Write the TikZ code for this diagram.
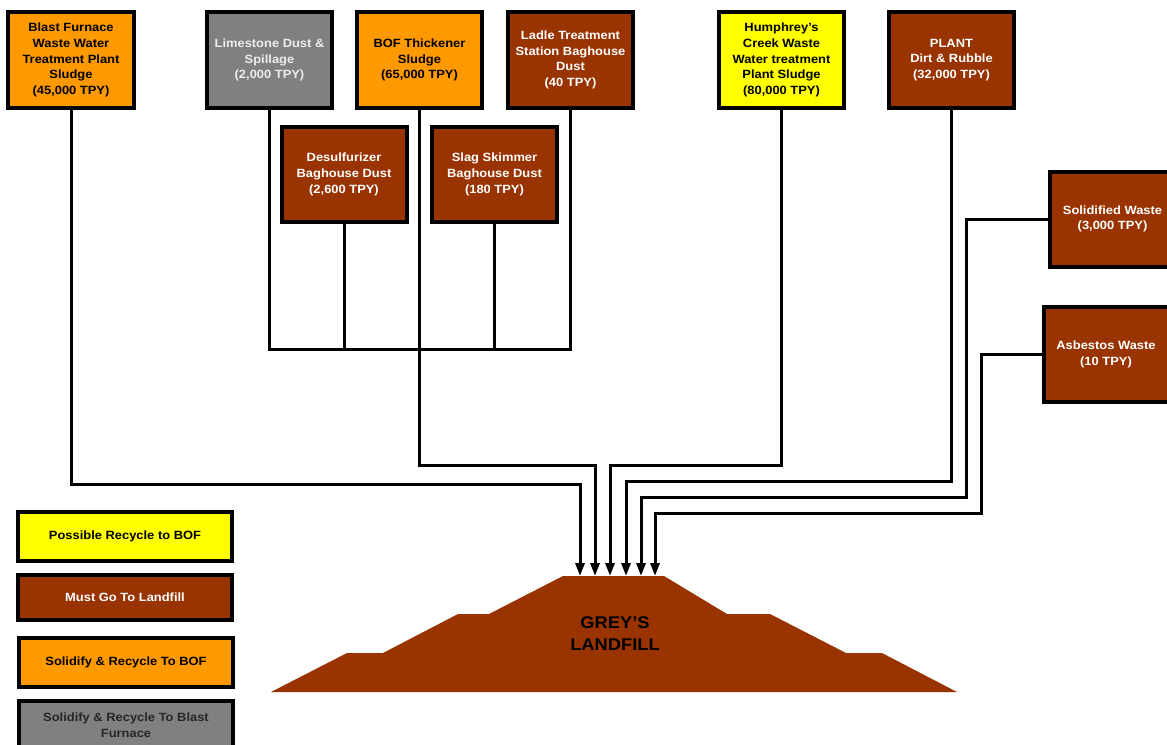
\documentclass[tikz,border=0pt]{standalone}
\usepackage{fontspec}
\setmainfont{Liberation Sans}[FakeStretch=1.08]
\usetikzlibrary{arrows.meta}
\definecolor{orng}{HTML}{FF9900}
\definecolor{gry}{HTML}{808080}
\definecolor{brwn}{HTML}{993300}
\definecolor{yllw}{HTML}{FFFF00}
\tikzset{
  box/.style={draw=black, line width=4bp, rectangle, minimum width=125bp, minimum height=95bp,
    align=center, inner sep=2bp, font=\fontsize{12}{15.7}\selectfont\bfseries},
  orangebox/.style={box, fill=orng, text=black},
  graybox/.style={box, fill=gry, text=white!93!black},
  brownbox/.style={box, fill=brwn, text=white},
  yellowbox/.style={box, fill=yllw, text=black},
  legend/.style={draw=black, line width=4bp, rectangle, minimum width=214bp, minimum height=46bp,
    align=center, inner sep=2bp, font=\fontsize{12}{15.7}\selectfont\bfseries},
  conn/.style={line width=3bp, draw=black},
  arr/.style={conn, -{Triangle[length=13bp,width=9bp]}},
}
\begin{document}
\begin{tikzpicture}[x=1bp,y=-1bp]
\useasboundingbox (0,0) rectangle (1167,745);
% landfill
\fill[brwn] (271,692) -- (347,653) -- (383,653) -- (458,614) -- (489,614) -- (563,576) -- (664,576)
  -- (727,614) -- (770,614) -- (846,653) -- (882,653) -- (957,692) -- cycle;
\node[font=\fontsize{17}{22}\selectfont\bfseries, align=center, text=black] (land) at (615,634) {GREY’S\\LANDFILL};
% boxes
\node[orangebox] (blast) at (71,60) {Blast Furnace\\Waste Water\\Treatment Plant\\Sludge\\(45,000 TPY)};
\node[graybox] (lime) at (269.5,60) {Limestone Dust \&\\Spillage\\(2,000 TPY)};
\node[orangebox] (bof) at (419.5,60) {BOF Thickener\\Sludge\\(65,000 TPY)};
\node[brownbox] (ladle) at (570.5,60) {Ladle Treatment\\Station Baghouse\\Dust\\(40 TPY)};
\node[brownbox] (desulf) at (344,174.5) {Desulfurizer\\Baghouse Dust\\(2,600 TPY)};
\node[brownbox] (slag) at (494.5,174.5) {Slag Skimmer\\Baghouse Dust\\(180 TPY)};
\node[yellowbox] (hum) at (781.5,60) {Humphrey’s\\Creek Waste\\Water treatment\\Plant Sludge\\(80,000 TPY)};
\node[brownbox] (plant) at (951.5,60) {PLANT\\Dirt \& Rubble\\(32,000 TPY)};
\node[brownbox] (solid) at (1112.5,219) {Solidified Waste\\(3,000 TPY)};
\node[brownbox] (asb) at (1106,354.5) {Asbestos Waste\\(10 TPY)};
% legend
\node[legend, fill=yllw, text=black, minimum height=49bp] (lg1) at (125,536.5) {Possible Recycle to BOF};
\node[legend, fill=brwn, text=white, minimum height=45bp] (lg2) at (125,597.5) {Must Go To Landfill};
\node[legend, fill=orng, text=black, minimum height=49bp] (lg3) at (126,662.5) {Solidify \& Recycle To BOF};
\node[legend, fill=gry, text=black!85, minimum height=49bp] (lg4) at (126,725.5) {Solidify \& Recycle To Blast\\Furnace};
% coordinates
\coordinate (busy) at (0,349);
\coordinate (t1) at (580,576); \coordinate (j1) at (580,484);
\coordinate (t2) at (595,576); \coordinate (j2) at (595,465);
\coordinate (t3) at (610,576); \coordinate (j3) at (610,465);
\coordinate (t4) at (626,576); \coordinate (j4) at (626,481);
\coordinate (t5) at (641,576); \coordinate (j5) at (641,497); \coordinate (k5) at (966,497);
\coordinate (t6) at (655,576); \coordinate (j6) at (655,513); \coordinate (k6) at (981,513);
% bus
\draw[conn] (lime.south) -- (lime.south |- busy) -| (ladle.south);
\draw[conn] (desulf.south) -- (desulf.south |- busy);
\draw[conn] (slag.south) -- (slag.south |- busy);
% connectors
\draw[arr] (blast.south) |- (j1) -- (t1);
\draw[arr] (bof.south) |- (j2) -- (t2);
\draw[arr] (hum.south) |- (j3) -- (t3);
\draw[arr] (plant.south) |- (j4) -- (t4);
\draw[arr] (solid.west) -| (k5) -- (j5) -- (t5);
\draw[arr] (asb.west) -| (k6) -- (j6) -- (t6);
\end{tikzpicture}
\end{document}
